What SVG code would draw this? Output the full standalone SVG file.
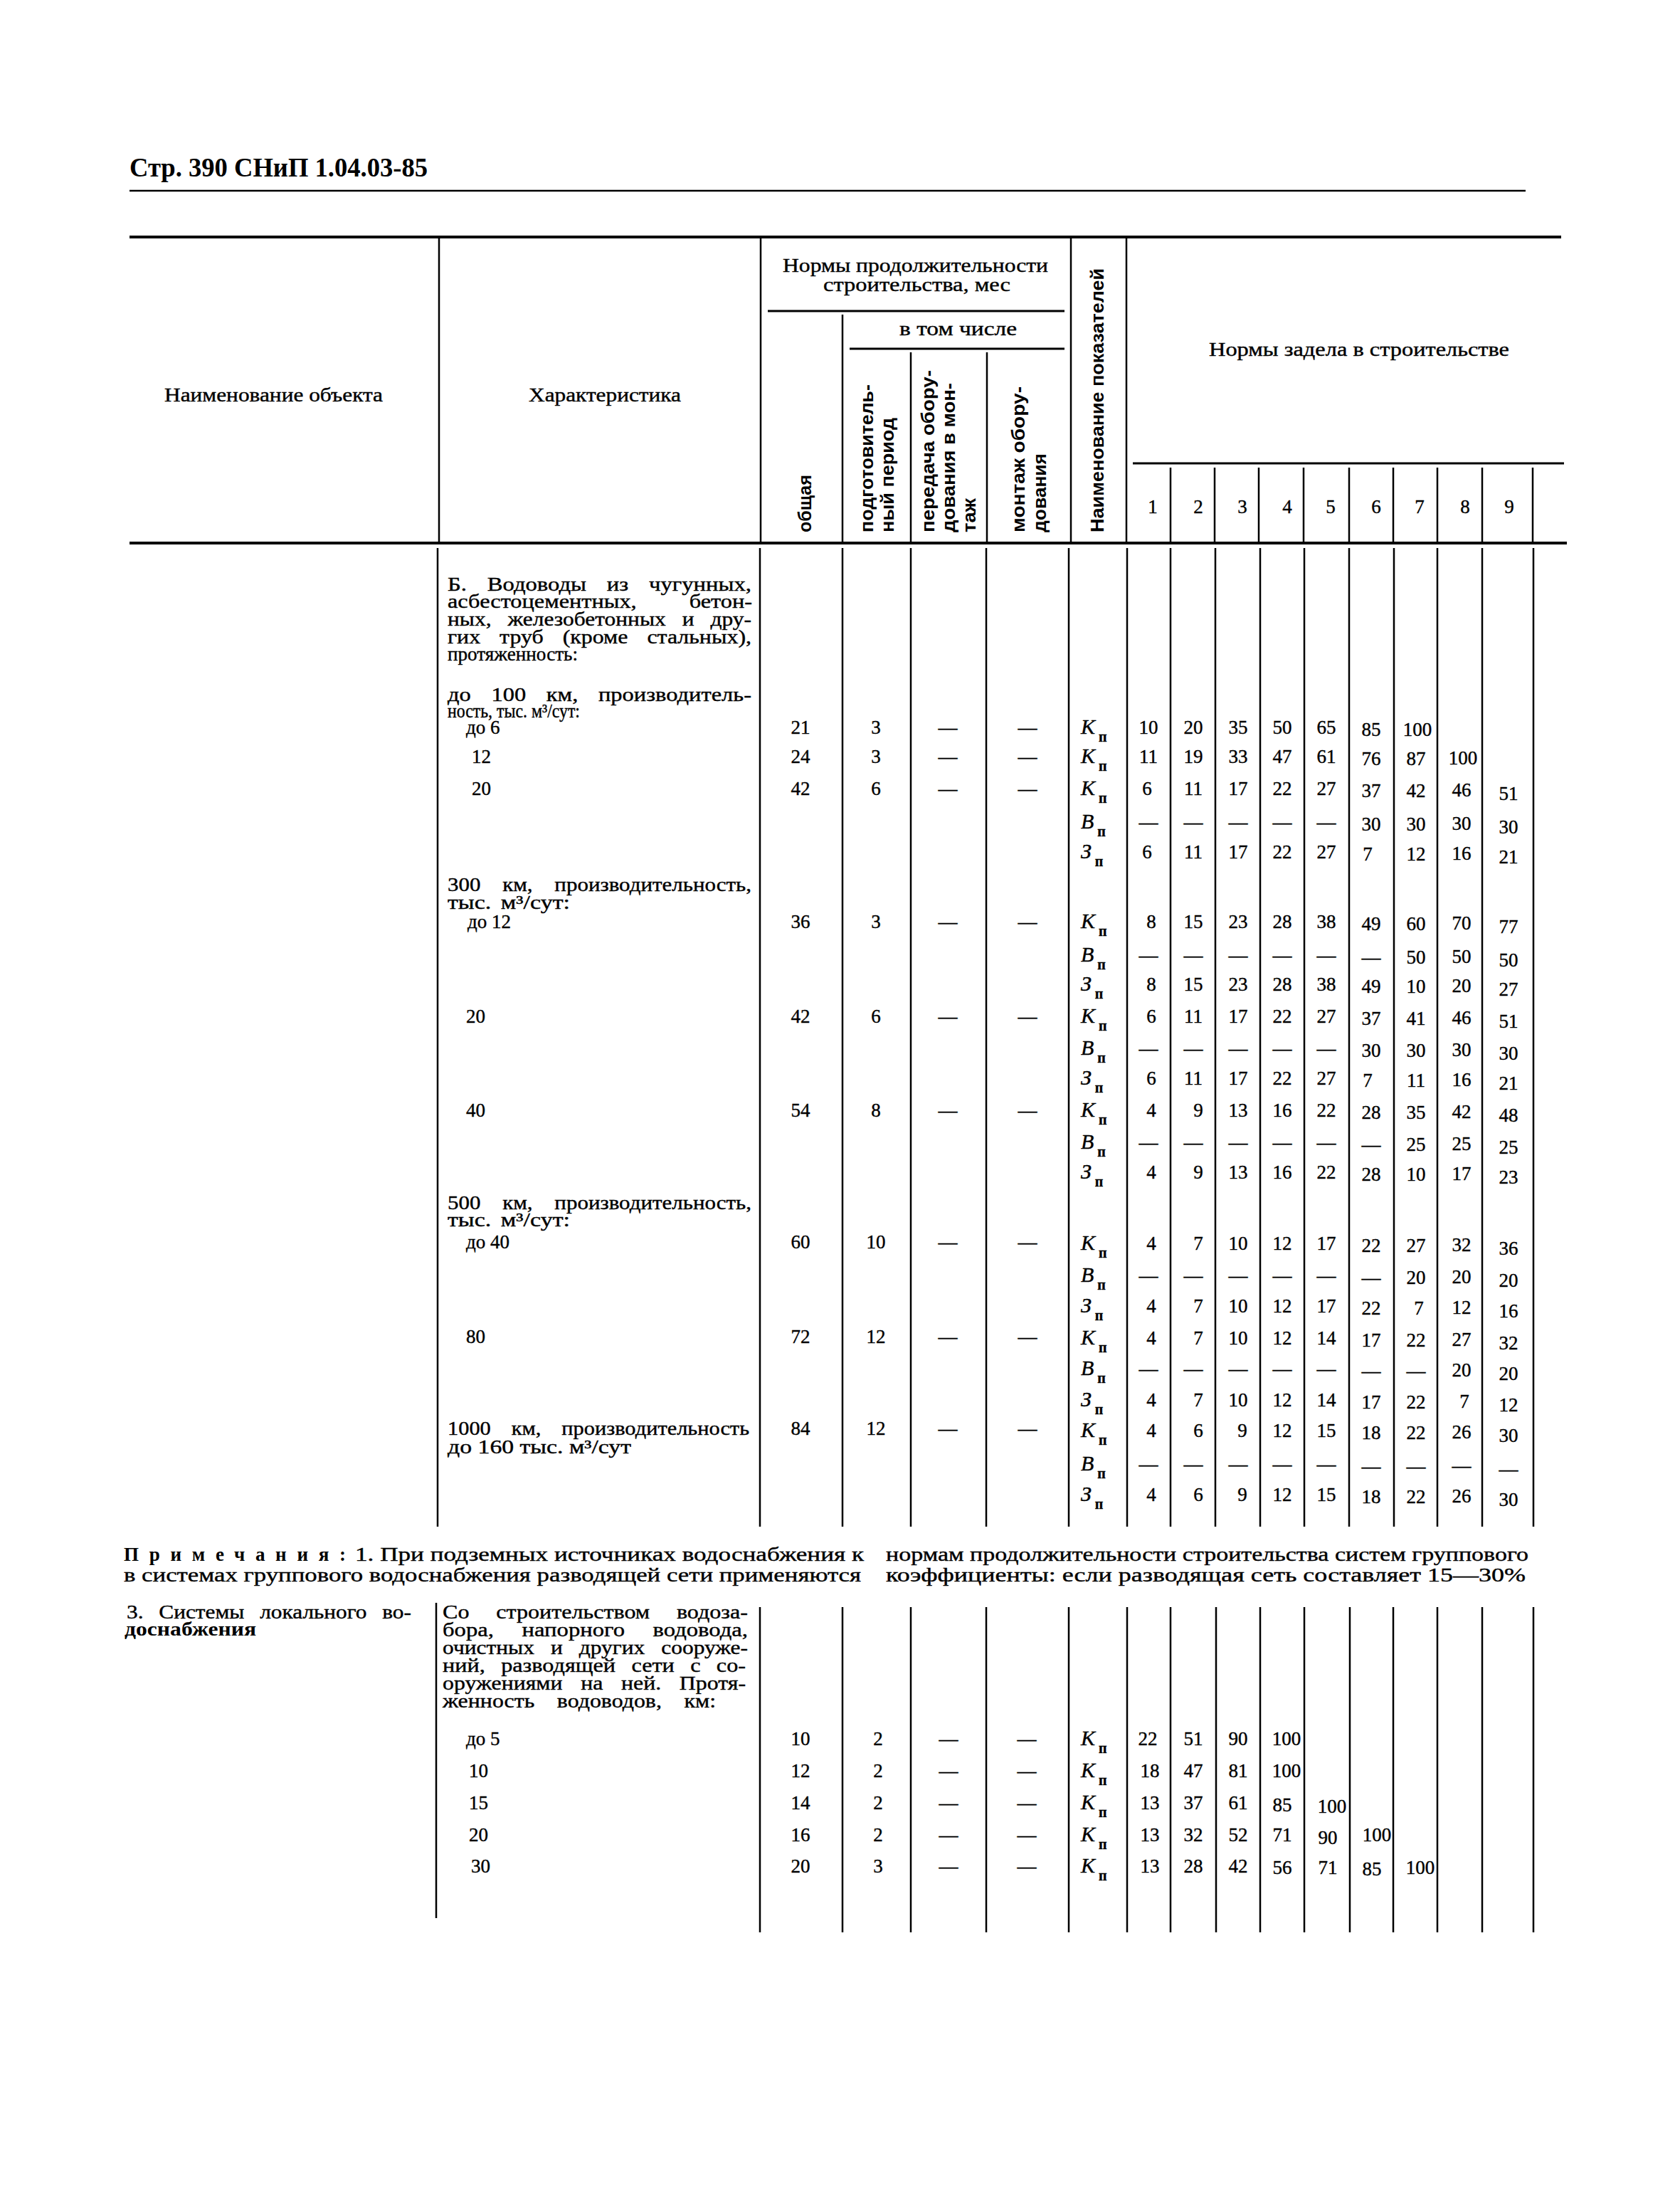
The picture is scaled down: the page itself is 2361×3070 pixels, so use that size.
<svg xmlns="http://www.w3.org/2000/svg" width="2361" height="3070" viewBox="0 0 2361 3070">
<style>
.s{font-family:"Liberation Serif","Times New Roman",serif;font-size:27px;fill:#000;stroke:#000;stroke-width:0.4}
.sb{font-family:"Liberation Serif","Times New Roman",serif;font-size:27px;font-weight:bold;fill:#000}
.n{font-family:"Liberation Serif","Times New Roman",serif;font-size:27px;fill:#000;stroke:#000;stroke-width:0.4;text-anchor:middle}
.r{font-family:"Liberation Sans",Arial,sans-serif;font-size:25px;font-weight:bold;fill:#000}
.k{font-family:"Liberation Serif","Times New Roman",serif;font-size:30px;font-style:italic;fill:#000;stroke:#000;stroke-width:0.4}
.sub{font-size:20px;font-style:normal;font-weight:bold}
.ti{font-family:"Liberation Serif","Times New Roman",serif;font-size:38px;font-weight:bold;fill:#000}
.L{stroke:#000;stroke-width:2.5;fill:none}
.M{stroke:#000;stroke-width:3;fill:none}
.T{stroke:#000;stroke-width:4;fill:none}
</style>
<rect width="2361" height="3070" fill="#fff"/>

<g id="title">
<text class="ti" x="182" y="248" textLength="419" lengthAdjust="spacingAndGlyphs">Стр. 390 СНиП 1.04.03-85</text>
<line class="L" x1="182" y1="268" x2="2144" y2="268"/>
</g>

<g id="grid-lines">
<line class="T" x1="182" y1="333" x2="2194" y2="333"/>
<line class="T" x1="182" y1="763" x2="2202" y2="763"/>
<line class="M" x1="1079" y1="437" x2="1496" y2="437"/>
<line class="M" x1="1194" y1="490" x2="1496" y2="490"/>
<line class="M" x1="1592" y1="651" x2="2198" y2="651"/>
<path class="L" d="M617 335V761M1069 335V761M1505 335V761M1583 335V761M1184 442V761M1280 495V761M1387 495V761M1645 657V761M1707 657V761M1769 657V761M1832 657V761M1896 657V761M1958 657V761M2020 657V761M2083 657V761M2154 657V761"/>
<path class="L" d="M615 770V2145M1068 770V2145M1184 770V2145M1280 770V2145M1386 770V2145M1502 770V2145M1584 770V2145M1645 770V2145M1708 770V2145M1771 770V2145M1833 770V2145M1896 770V2145M1959 770V2145M2020 770V2145M2083 770V2145M2155 770V2145"/>
<path class="L" d="M613 2252V2695M1068 2258V2715M1184 2258V2715M1280 2258V2715M1386 2258V2715M1502 2258V2715M1584 2258V2715M1645 2258V2715M1709 2258V2715M1771 2258V2715M1833 2258V2715M1897 2258V2715M1958 2258V2715M2020 2258V2715M2083 2258V2715M2155 2258V2715"/>
</g>

<g id="header">
<text class="s" x="231" y="564" textLength="307" lengthAdjust="spacingAndGlyphs">Наименование объекта</text>
<text class="s" x="743" y="564" textLength="214" lengthAdjust="spacingAndGlyphs">Характеристика</text>
<text class="s" x="1100" y="382" textLength="373" lengthAdjust="spacingAndGlyphs">Нормы продолжительности</text>
<text class="s" x="1157" y="409" textLength="263" lengthAdjust="spacingAndGlyphs">строительства, мес</text>
<text class="s" x="1264" y="471" textLength="165" lengthAdjust="spacingAndGlyphs">в том числе</text>
<text class="s" x="1699" y="500" textLength="422" lengthAdjust="spacingAndGlyphs">Нормы задела в строительстве</text>
<text class="r" transform="translate(1140,748) rotate(-90)" textLength="81" lengthAdjust="spacingAndGlyphs">общая</text>
<text class="r" transform="translate(1227,748) rotate(-90)" textLength="208" lengthAdjust="spacingAndGlyphs">подготовитель-</text>
<text class="r" transform="translate(1256,748) rotate(-90)" textLength="161" lengthAdjust="spacingAndGlyphs">ный период</text>
<text class="r" transform="translate(1313,748) rotate(-90)" textLength="228" lengthAdjust="spacingAndGlyphs">передача обору-</text>
<text class="r" transform="translate(1342,748) rotate(-90)" textLength="210" lengthAdjust="spacingAndGlyphs">дования в мон-</text>
<text class="r" transform="translate(1371,748) rotate(-90)" textLength="48" lengthAdjust="spacingAndGlyphs">таж</text>
<text class="r" transform="translate(1440,748) rotate(-90)" textLength="205" lengthAdjust="spacingAndGlyphs">монтаж обору-</text>
<text class="r" transform="translate(1470,748) rotate(-90)" textLength="111" lengthAdjust="spacingAndGlyphs">дования</text>
<text class="r" transform="translate(1551,748) rotate(-90)" textLength="371" lengthAdjust="spacingAndGlyphs">Наименование показателей</text>
<text class="n"><tspan x="1620" y="721">1</tspan><tspan x="1684" y="721">2</tspan><tspan x="1746" y="721">3</tspan><tspan x="1809" y="721">4</tspan><tspan x="1870" y="721">5</tspan><tspan x="1934" y="721">6</tspan><tspan x="1995" y="721">7</tspan><tspan x="2059" y="721">8</tspan><tspan x="2121" y="721">9</tspan></text>
</g>

<g id="section-b-text">
<text class="s" x="629" y="830" word-spacing="17" textLength="427" lengthAdjust="spacingAndGlyphs">Б. Водоводы из чугунных,</text>
<text class="s" x="629" y="854" word-spacing="55" textLength="428" lengthAdjust="spacingAndGlyphs">асбестоцементных, бетон-</text>
<text class="s" x="629" y="879" word-spacing="13" textLength="427" lengthAdjust="spacingAndGlyphs">ных, железобетонных и дру-</text>
<text class="s" x="629" y="904" word-spacing="16" textLength="427" lengthAdjust="spacingAndGlyphs">гих труб (кроме стальных),</text>
<text class="s" x="629" y="928" textLength="183" lengthAdjust="spacingAndGlyphs">протяженность:</text>
<text class="s" x="629" y="985" word-spacing="17" textLength="427" lengthAdjust="spacingAndGlyphs">до 100 км, производитель-</text>
<text class="s" x="629" y="1008" textLength="186" lengthAdjust="spacingAndGlyphs">ность, тыс. м³/сут:</text>
<text class="s" x="655" y="1031">до 6</text>
<text class="s" x="663" y="1072">12</text>
<text class="s" x="663" y="1117">20</text>
<text class="s" x="629" y="1252" word-spacing="20" textLength="427" lengthAdjust="spacingAndGlyphs">300 км, производительность,</text>
<text class="s" x="629" y="1277" word-spacing="4" textLength="172" lengthAdjust="spacingAndGlyphs">тыс. м³/сут:</text>
<text class="s" x="657" y="1304">до 12</text>
<text class="s" x="655" y="1437">20</text>
<text class="s" x="655" y="1569">40</text>
<text class="s" x="629" y="1699" word-spacing="20" textLength="427" lengthAdjust="spacingAndGlyphs">500 км, производительность,</text>
<text class="s" x="629" y="1723" word-spacing="4" textLength="172" lengthAdjust="spacingAndGlyphs">тыс. м³/сут:</text>
<text class="s" x="655" y="1754">до 40</text>
<text class="s" x="655" y="1887">80</text>
<text class="s" x="629" y="2016" word-spacing="19" textLength="424" lengthAdjust="spacingAndGlyphs">1000 км, производительность</text>
<text class="s" x="629" y="2042" textLength="258" lengthAdjust="spacingAndGlyphs">до 160 тыс. м³/сут</text>
</g>

<g id="section-b-durations">
<text class="n"><tspan x="1125" y="1031">21</tspan><tspan x="1231" y="1031">3</tspan><tspan x="1332" y="1031">—</tspan><tspan x="1444" y="1031">—</tspan></text>
<text class="n"><tspan x="1125" y="1072">24</tspan><tspan x="1231" y="1072">3</tspan><tspan x="1332" y="1072">—</tspan><tspan x="1444" y="1072">—</tspan></text>
<text class="n"><tspan x="1125" y="1117">42</tspan><tspan x="1231" y="1117">6</tspan><tspan x="1332" y="1117">—</tspan><tspan x="1444" y="1117">—</tspan></text>
<text class="n"><tspan x="1125" y="1304">36</tspan><tspan x="1231" y="1304">3</tspan><tspan x="1332" y="1304">—</tspan><tspan x="1444" y="1304">—</tspan></text>
<text class="n"><tspan x="1125" y="1437">42</tspan><tspan x="1231" y="1437">6</tspan><tspan x="1332" y="1437">—</tspan><tspan x="1444" y="1437">—</tspan></text>
<text class="n"><tspan x="1125" y="1569">54</tspan><tspan x="1231" y="1569">8</tspan><tspan x="1332" y="1569">—</tspan><tspan x="1444" y="1569">—</tspan></text>
<text class="n"><tspan x="1125" y="1754">60</tspan><tspan x="1231" y="1754">10</tspan><tspan x="1332" y="1754">—</tspan><tspan x="1444" y="1754">—</tspan></text>
<text class="n"><tspan x="1125" y="1887">72</tspan><tspan x="1231" y="1887">12</tspan><tspan x="1332" y="1887">—</tspan><tspan x="1444" y="1887">—</tspan></text>
<text class="n"><tspan x="1125" y="2016">84</tspan><tspan x="1231" y="2016">12</tspan><tspan x="1332" y="2016">—</tspan><tspan x="1444" y="2016">—</tspan></text>
</g>

<g id="section-b-labels">
<text class="k" x="1519" y="1031">K<tspan class="sub" dx="5" dy="11">п</tspan></text>
<text class="k" x="1519" y="1072">K<tspan class="sub" dx="5" dy="11">п</tspan></text>
<text class="k" x="1519" y="1117">K<tspan class="sub" dx="5" dy="11">п</tspan></text>
<text class="k" x="1519" y="1164">В<tspan class="sub" dx="5" dy="11">п</tspan></text>
<text class="k" x="1519" y="1206">З<tspan class="sub" dx="5" dy="11">п</tspan></text>
<text class="k" x="1519" y="1304">K<tspan class="sub" dx="5" dy="11">п</tspan></text>
<text class="k" x="1519" y="1351">В<tspan class="sub" dx="5" dy="11">п</tspan></text>
<text class="k" x="1519" y="1392">З<tspan class="sub" dx="5" dy="11">п</tspan></text>
<text class="k" x="1519" y="1437">K<tspan class="sub" dx="5" dy="11">п</tspan></text>
<text class="k" x="1519" y="1482">В<tspan class="sub" dx="5" dy="11">п</tspan></text>
<text class="k" x="1519" y="1524">З<tspan class="sub" dx="5" dy="11">п</tspan></text>
<text class="k" x="1519" y="1569">K<tspan class="sub" dx="5" dy="11">п</tspan></text>
<text class="k" x="1519" y="1614">В<tspan class="sub" dx="5" dy="11">п</tspan></text>
<text class="k" x="1519" y="1656">З<tspan class="sub" dx="5" dy="11">п</tspan></text>
<text class="k" x="1519" y="1756">K<tspan class="sub" dx="5" dy="11">п</tspan></text>
<text class="k" x="1519" y="1801">В<tspan class="sub" dx="5" dy="11">п</tspan></text>
<text class="k" x="1519" y="1844">З<tspan class="sub" dx="5" dy="11">п</tspan></text>
<text class="k" x="1519" y="1889">K<tspan class="sub" dx="5" dy="11">п</tspan></text>
<text class="k" x="1519" y="1932">В<tspan class="sub" dx="5" dy="11">п</tspan></text>
<text class="k" x="1519" y="1976">З<tspan class="sub" dx="5" dy="11">п</tspan></text>
<text class="k" x="1519" y="2019">K<tspan class="sub" dx="5" dy="11">п</tspan></text>
<text class="k" x="1519" y="2066">В<tspan class="sub" dx="5" dy="11">п</tspan></text>
<text class="k" x="1519" y="2109">З<tspan class="sub" dx="5" dy="11">п</tspan></text>
</g>

<g id="section-b-values">
<text class="n"><tspan x="1614" y="1031">10</tspan><tspan x="1677" y="1031">20</tspan><tspan x="1740" y="1031">35</tspan><tspan x="1802" y="1031">50</tspan><tspan x="1864" y="1031">65</tspan><tspan x="1927" y="1034">85</tspan><tspan x="1992" y="1034">100</tspan></text>
<text class="n"><tspan x="1614" y="1072">11</tspan><tspan x="1677" y="1072">19</tspan><tspan x="1740" y="1072">33</tspan><tspan x="1802" y="1072">47</tspan><tspan x="1864" y="1072">61</tspan><tspan x="1927" y="1075">76</tspan><tspan x="1990" y="1075">87</tspan><tspan x="2056" y="1074">100</tspan></text>
<text class="n"><tspan x="1612" y="1117">6</tspan><tspan x="1677" y="1117">11</tspan><tspan x="1740" y="1117">17</tspan><tspan x="1802" y="1117">22</tspan><tspan x="1864" y="1117">27</tspan><tspan x="1927" y="1120">37</tspan><tspan x="1990" y="1120">42</tspan><tspan x="2054" y="1119">46</tspan><tspan x="2120" y="1124">51</tspan></text>
<text class="n"><tspan x="1614" y="1164">—</tspan><tspan x="1677" y="1164">—</tspan><tspan x="1740" y="1164">—</tspan><tspan x="1802" y="1164">—</tspan><tspan x="1864" y="1164">—</tspan><tspan x="1927" y="1167">30</tspan><tspan x="1990" y="1167">30</tspan><tspan x="2054" y="1166">30</tspan><tspan x="2120" y="1171">30</tspan></text>
<text class="n"><tspan x="1612" y="1206">6</tspan><tspan x="1677" y="1206">11</tspan><tspan x="1740" y="1206">17</tspan><tspan x="1802" y="1206">22</tspan><tspan x="1864" y="1206">27</tspan><tspan x="1922" y="1209">7</tspan><tspan x="1990" y="1209">12</tspan><tspan x="2054" y="1208">16</tspan><tspan x="2120" y="1213">21</tspan></text>
<text class="n"><tspan x="1618" y="1304">8</tspan><tspan x="1677" y="1304">15</tspan><tspan x="1740" y="1304">23</tspan><tspan x="1802" y="1304">28</tspan><tspan x="1864" y="1304">38</tspan><tspan x="1927" y="1307">49</tspan><tspan x="1990" y="1307">60</tspan><tspan x="2054" y="1306">70</tspan><tspan x="2120" y="1311">77</tspan></text>
<text class="n"><tspan x="1614" y="1351">—</tspan><tspan x="1677" y="1351">—</tspan><tspan x="1740" y="1351">—</tspan><tspan x="1802" y="1351">—</tspan><tspan x="1864" y="1351">—</tspan><tspan x="1927" y="1354">—</tspan><tspan x="1990" y="1354">50</tspan><tspan x="2054" y="1353">50</tspan><tspan x="2120" y="1358">50</tspan></text>
<text class="n"><tspan x="1618" y="1392">8</tspan><tspan x="1677" y="1392">15</tspan><tspan x="1740" y="1392">23</tspan><tspan x="1802" y="1392">28</tspan><tspan x="1864" y="1392">38</tspan><tspan x="1927" y="1395">49</tspan><tspan x="1990" y="1395">10</tspan><tspan x="2054" y="1394">20</tspan><tspan x="2120" y="1399">27</tspan></text>
<text class="n"><tspan x="1618" y="1437">6</tspan><tspan x="1677" y="1437">11</tspan><tspan x="1740" y="1437">17</tspan><tspan x="1802" y="1437">22</tspan><tspan x="1864" y="1437">27</tspan><tspan x="1927" y="1440">37</tspan><tspan x="1990" y="1440">41</tspan><tspan x="2054" y="1439">46</tspan><tspan x="2120" y="1444">51</tspan></text>
<text class="n"><tspan x="1614" y="1482">—</tspan><tspan x="1677" y="1482">—</tspan><tspan x="1740" y="1482">—</tspan><tspan x="1802" y="1482">—</tspan><tspan x="1864" y="1482">—</tspan><tspan x="1927" y="1485">30</tspan><tspan x="1990" y="1485">30</tspan><tspan x="2054" y="1484">30</tspan><tspan x="2120" y="1489">30</tspan></text>
<text class="n"><tspan x="1618" y="1524">6</tspan><tspan x="1677" y="1524">11</tspan><tspan x="1740" y="1524">17</tspan><tspan x="1802" y="1524">22</tspan><tspan x="1864" y="1524">27</tspan><tspan x="1922" y="1527">7</tspan><tspan x="1990" y="1527">11</tspan><tspan x="2054" y="1526">16</tspan><tspan x="2120" y="1531">21</tspan></text>
<text class="n"><tspan x="1618" y="1569">4</tspan><tspan x="1684" y="1569">9</tspan><tspan x="1740" y="1569">13</tspan><tspan x="1802" y="1569">16</tspan><tspan x="1864" y="1569">22</tspan><tspan x="1927" y="1572">28</tspan><tspan x="1990" y="1572">35</tspan><tspan x="2054" y="1571">42</tspan><tspan x="2120" y="1576">48</tspan></text>
<text class="n"><tspan x="1614" y="1614">—</tspan><tspan x="1677" y="1614">—</tspan><tspan x="1740" y="1614">—</tspan><tspan x="1802" y="1614">—</tspan><tspan x="1864" y="1614">—</tspan><tspan x="1927" y="1617">—</tspan><tspan x="1990" y="1617">25</tspan><tspan x="2054" y="1616">25</tspan><tspan x="2120" y="1621">25</tspan></text>
<text class="n"><tspan x="1618" y="1656">4</tspan><tspan x="1684" y="1656">9</tspan><tspan x="1740" y="1656">13</tspan><tspan x="1802" y="1656">16</tspan><tspan x="1864" y="1656">22</tspan><tspan x="1927" y="1659">28</tspan><tspan x="1990" y="1659">10</tspan><tspan x="2054" y="1658">17</tspan><tspan x="2120" y="1663">23</tspan></text>
<text class="n"><tspan x="1618" y="1756">4</tspan><tspan x="1684" y="1756">7</tspan><tspan x="1740" y="1756">10</tspan><tspan x="1802" y="1756">12</tspan><tspan x="1864" y="1756">17</tspan><tspan x="1927" y="1759">22</tspan><tspan x="1990" y="1759">27</tspan><tspan x="2054" y="1758">32</tspan><tspan x="2120" y="1763">36</tspan></text>
<text class="n"><tspan x="1614" y="1801">—</tspan><tspan x="1677" y="1801">—</tspan><tspan x="1740" y="1801">—</tspan><tspan x="1802" y="1801">—</tspan><tspan x="1864" y="1801">—</tspan><tspan x="1927" y="1804">—</tspan><tspan x="1990" y="1804">20</tspan><tspan x="2054" y="1803">20</tspan><tspan x="2120" y="1808">20</tspan></text>
<text class="n"><tspan x="1618" y="1844">4</tspan><tspan x="1684" y="1844">7</tspan><tspan x="1740" y="1844">10</tspan><tspan x="1802" y="1844">12</tspan><tspan x="1864" y="1844">17</tspan><tspan x="1927" y="1847">22</tspan><tspan x="1994" y="1847">7</tspan><tspan x="2054" y="1846">12</tspan><tspan x="2120" y="1851">16</tspan></text>
<text class="n"><tspan x="1618" y="1889">4</tspan><tspan x="1684" y="1889">7</tspan><tspan x="1740" y="1889">10</tspan><tspan x="1802" y="1889">12</tspan><tspan x="1864" y="1889">14</tspan><tspan x="1927" y="1892">17</tspan><tspan x="1990" y="1892">22</tspan><tspan x="2054" y="1891">27</tspan><tspan x="2120" y="1896">32</tspan></text>
<text class="n"><tspan x="1614" y="1932">—</tspan><tspan x="1677" y="1932">—</tspan><tspan x="1740" y="1932">—</tspan><tspan x="1802" y="1932">—</tspan><tspan x="1864" y="1932">—</tspan><tspan x="1927" y="1935">—</tspan><tspan x="1990" y="1935">—</tspan><tspan x="2054" y="1934">20</tspan><tspan x="2120" y="1939">20</tspan></text>
<text class="n"><tspan x="1618" y="1976">4</tspan><tspan x="1684" y="1976">7</tspan><tspan x="1740" y="1976">10</tspan><tspan x="1802" y="1976">12</tspan><tspan x="1864" y="1976">14</tspan><tspan x="1927" y="1979">17</tspan><tspan x="1990" y="1979">22</tspan><tspan x="2058" y="1978">7</tspan><tspan x="2120" y="1983">12</tspan></text>
<text class="n"><tspan x="1618" y="2019">4</tspan><tspan x="1684" y="2019">6</tspan><tspan x="1746" y="2019">9</tspan><tspan x="1802" y="2019">12</tspan><tspan x="1864" y="2019">15</tspan><tspan x="1927" y="2022">18</tspan><tspan x="1990" y="2022">22</tspan><tspan x="2054" y="2021">26</tspan><tspan x="2120" y="2026">30</tspan></text>
<text class="n"><tspan x="1614" y="2066">—</tspan><tspan x="1677" y="2066">—</tspan><tspan x="1740" y="2066">—</tspan><tspan x="1802" y="2066">—</tspan><tspan x="1864" y="2066">—</tspan><tspan x="1927" y="2069">—</tspan><tspan x="1990" y="2069">—</tspan><tspan x="2054" y="2068">—</tspan><tspan x="2120" y="2073">—</tspan></text>
<text class="n"><tspan x="1618" y="2109">4</tspan><tspan x="1684" y="2109">6</tspan><tspan x="1746" y="2109">9</tspan><tspan x="1802" y="2109">12</tspan><tspan x="1864" y="2109">15</tspan><tspan x="1927" y="2112">18</tspan><tspan x="1990" y="2112">22</tspan><tspan x="2054" y="2111">26</tspan><tspan x="2120" y="2116">30</tspan></text>
</g>

<g id="notes">
<text class="sb" x="174" y="2193" textLength="312" lengthAdjust="spacing">Примечания:</text>
<text class="s" x="499" y="2193" textLength="715" lengthAdjust="spacingAndGlyphs">1. При подземных источниках  водоснабжения к</text>
<text class="s" x="1245" y="2193" textLength="903" lengthAdjust="spacingAndGlyphs">нормам продолжительности строительства систем группового</text>
<text class="s" x="174" y="2222" textLength="1036" lengthAdjust="spacingAndGlyphs">в системах группового водоснабжения разводящей сети применяются</text>
<text class="s" x="1245" y="2222" textLength="899" lengthAdjust="spacingAndGlyphs">коэффициенты: если  разводящая  сеть составляет 15—30%</text>
</g>

<g id="section-3-text">
<text class="s" x="178" y="2274" word-spacing="12" textLength="400" lengthAdjust="spacingAndGlyphs">3. Системы локального во-</text>
<text class="sb" x="175" y="2298" textLength="185" lengthAdjust="spacingAndGlyphs">доснабжения</text>
<text class="s" x="622" y="2274" word-spacing="25" textLength="429" lengthAdjust="spacingAndGlyphs">Со строительством водоза-</text>
<text class="s" x="622" y="2299" word-spacing="26" textLength="429" lengthAdjust="spacingAndGlyphs">бора, напорного водовода,</text>
<text class="s" x="622" y="2324" word-spacing="13" textLength="429" lengthAdjust="spacingAndGlyphs">очистных и других сооруже-</text>
<text class="s" x="622" y="2349" word-spacing="12" textLength="426" lengthAdjust="spacingAndGlyphs">ний, разводящей сети с со-</text>
<text class="s" x="622" y="2374" word-spacing="15" textLength="426" lengthAdjust="spacingAndGlyphs">оружениями на ней. Протя-</text>
<text class="s" x="622" y="2399" word-spacing="20" textLength="384" lengthAdjust="spacingAndGlyphs">женность водоводов, км:</text>
<text class="s" x="655" y="2452">до 5</text>
<text class="s" x="659" y="2497">10</text>
<text class="s" x="659" y="2542">15</text>
<text class="s" x="659" y="2587">20</text>
<text class="s" x="662" y="2631">30</text>
</g>

<g id="section-3-values">
<text class="n"><tspan x="1125" y="2452">10</tspan><tspan x="1234" y="2452">2</tspan><tspan x="1333" y="2452">—</tspan><tspan x="1443" y="2452">—</tspan></text>
<text class="n"><tspan x="1125" y="2497">12</tspan><tspan x="1234" y="2497">2</tspan><tspan x="1333" y="2497">—</tspan><tspan x="1443" y="2497">—</tspan></text>
<text class="n"><tspan x="1125" y="2542">14</tspan><tspan x="1234" y="2542">2</tspan><tspan x="1333" y="2542">—</tspan><tspan x="1443" y="2542">—</tspan></text>
<text class="n"><tspan x="1125" y="2587">16</tspan><tspan x="1234" y="2587">2</tspan><tspan x="1333" y="2587">—</tspan><tspan x="1443" y="2587">—</tspan></text>
<text class="n"><tspan x="1125" y="2631">20</tspan><tspan x="1234" y="2631">3</tspan><tspan x="1333" y="2631">—</tspan><tspan x="1443" y="2631">—</tspan></text>
<text class="k" x="1519" y="2452">K<tspan class="sub" dx="5" dy="11">п</tspan></text>
<text class="k" x="1519" y="2497">K<tspan class="sub" dx="5" dy="11">п</tspan></text>
<text class="k" x="1519" y="2542">K<tspan class="sub" dx="5" dy="11">п</tspan></text>
<text class="k" x="1519" y="2587">K<tspan class="sub" dx="5" dy="11">п</tspan></text>
<text class="k" x="1519" y="2631">K<tspan class="sub" dx="5" dy="11">п</tspan></text>
<text class="n"><tspan x="1613" y="2452">22</tspan><tspan x="1677" y="2452">51</tspan><tspan x="1740" y="2452">90</tspan><tspan x="1808" y="2452">100</tspan></text>
<text class="n"><tspan x="1616" y="2497">18</tspan><tspan x="1677" y="2497">47</tspan><tspan x="1740" y="2497">81</tspan><tspan x="1808" y="2497">100</tspan></text>
<text class="n"><tspan x="1616" y="2542">13</tspan><tspan x="1677" y="2542">37</tspan><tspan x="1740" y="2542">61</tspan><tspan x="1802" y="2545">85</tspan><tspan x="1872" y="2547">100</tspan></text>
<text class="n"><tspan x="1616" y="2587">13</tspan><tspan x="1677" y="2587">32</tspan><tspan x="1740" y="2587">52</tspan><tspan x="1802" y="2587">71</tspan><tspan x="1866" y="2591">90</tspan><tspan x="1935" y="2587">100</tspan></text>
<text class="n"><tspan x="1616" y="2631">13</tspan><tspan x="1677" y="2631">28</tspan><tspan x="1740" y="2631">42</tspan><tspan x="1802" y="2633">56</tspan><tspan x="1866" y="2633">71</tspan><tspan x="1928" y="2635">85</tspan><tspan x="1996" y="2633">100</tspan></text>
</g>
</svg>
